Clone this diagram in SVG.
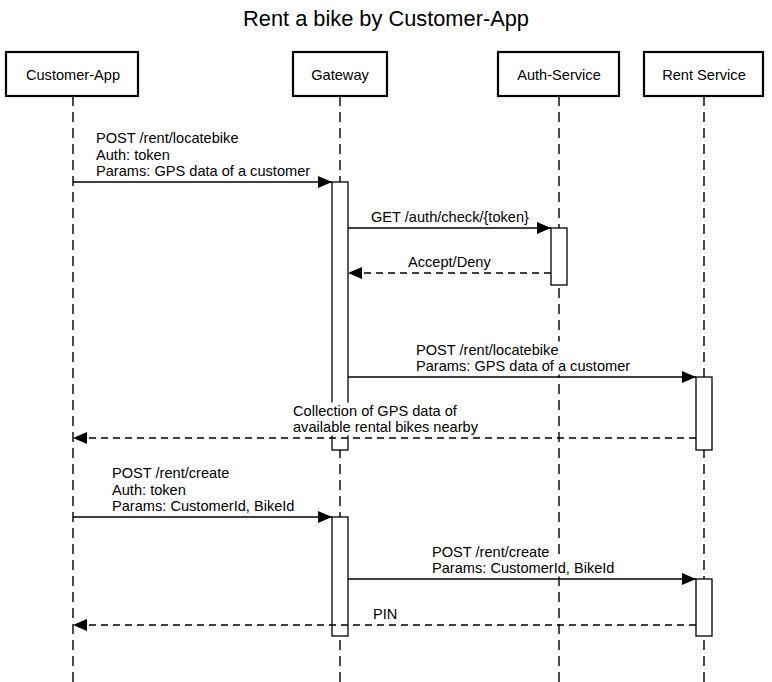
<svg xmlns="http://www.w3.org/2000/svg" width="772" height="682" viewBox="0 0 772 682">
<style>
text{font-family:"Liberation Sans",Arial,sans-serif;fill:#000}
.title{font-size:21.8px}
.lbl{font-size:14.6px}
.bg{fill:#fff;stroke:none}
.box{fill:#fff;stroke:#000;stroke-width:2.2}
.life{stroke:#000;stroke-width:1.4;stroke-dasharray:10 6;fill:none}
.bar{fill:#fff;stroke:#000;stroke-width:1.3}
.msg{stroke:#000;stroke-width:1.3;fill:none;marker-end:url(#ah)}
.ret{stroke:#000;stroke-width:1.3;fill:none;stroke-dasharray:7 5;marker-end:url(#ah)}
</style>
<defs>
<marker id="ah" viewBox="0 0 14 12" refX="14" refY="6" markerWidth="14" markerHeight="12" markerUnits="userSpaceOnUse" orient="auto">
<path d="M0,0 L14,6 L0,12 Z" fill="#000"/>
</marker>
</defs>
<rect width="772" height="682" fill="#fff"/>
<text class="title" x="386" y="26" text-anchor="middle">Rent a bike by Customer-App</text>
<g id="lifelines">
<line class="life" x1="73" y1="96" x2="73" y2="682"/>
<line class="life" x1="340" y1="96" x2="340" y2="682"/>
<line class="life" x1="559" y1="96" x2="559" y2="682"/>
<line class="life" x1="704" y1="96" x2="704" y2="682"/>
</g>
<g id="customer-app"><rect class="box" x="6" y="52" width="132" height="44"/><text class="lbl" x="73" y="79.5" text-anchor="middle">Customer-App</text></g>
<g id="gateway"><rect class="box" x="293" y="52" width="94" height="44"/><text class="lbl" x="340" y="79.5" text-anchor="middle">Gateway</text></g>
<g id="auth-service"><rect class="box" x="498" y="52" width="121" height="44"/><text class="lbl" x="559" y="79.5" text-anchor="middle">Auth-Service</text></g>
<g id="rent-service"><rect class="box" x="644" y="52" width="119" height="44"/><text class="lbl" x="704" y="79.5" text-anchor="middle">Rent Service</text></g>
<g id="activations">
<rect class="bar" x="332" y="182" width="16" height="268"/>
<rect class="bar" x="551" y="228" width="16" height="57"/>
<rect class="bar" x="696" y="377" width="16" height="73"/>
<rect class="bar" x="332" y="517" width="16" height="119"/>
<rect class="bar" x="696" y="579" width="16" height="57"/>
</g>
<g id="label-backgrounds">
<rect class="bg" x="95" y="130" width="145" height="16.5"/>
<rect class="bg" x="95" y="146.5" width="76" height="16.5"/>
<rect class="bg" x="95" y="163" width="216" height="16.5"/>
<rect class="bg" x="370" y="209" width="160" height="16.5"/>
<rect class="bg" x="407" y="254" width="85" height="16.5"/>
<rect class="bg" x="415" y="341.5" width="145" height="16.5"/>
<rect class="bg" x="415" y="358" width="216" height="16.5"/>
<rect class="bg" x="292" y="402.5" width="166" height="16.5"/>
<rect class="bg" x="292" y="419" width="187" height="16.5"/>
<rect class="bg" x="111" y="465" width="120" height="16.5"/>
<rect class="bg" x="111" y="481.5" width="76" height="16.5"/>
<rect class="bg" x="111" y="498" width="185" height="16.5"/>
<rect class="bg" x="431" y="543.5" width="120" height="16.5"/>
<rect class="bg" x="431" y="560" width="185" height="16.5"/>
<rect class="bg" x="372" y="606" width="26" height="16.5"/>
</g>
<g id="connectors">
<line class="msg" x1="73" y1="182" x2="332" y2="182"/>
<line class="msg" x1="348" y1="228" x2="551" y2="228"/>
<line class="ret" x1="551" y1="273" x2="348" y2="273"/>
<line class="msg" x1="348" y1="377" x2="696" y2="377"/>
<line class="ret" x1="696" y1="438" x2="73" y2="438"/>
<line class="msg" x1="73" y1="517" x2="332" y2="517"/>
<line class="msg" x1="348" y1="579" x2="696" y2="579"/>
<line class="ret" x1="696" y1="625" x2="73" y2="625"/>
</g>
<g id="labels">
<text class="lbl" x="96" y="143">POST /rent/locatebike</text>
<text class="lbl" x="96" y="159.5">Auth: token</text>
<text class="lbl" x="96" y="176">Params: GPS data of a customer</text>
<text class="lbl" x="371" y="222">GET /auth/check/{token}</text>
<text class="lbl" x="408" y="267">Accept/Deny</text>
<text class="lbl" x="416" y="354.5">POST /rent/locatebike</text>
<text class="lbl" x="416" y="371">Params: GPS data of a customer</text>
<text class="lbl" x="293" y="415.5">Collection of GPS data of</text>
<text class="lbl" x="293" y="432">available rental bikes nearby</text>
<text class="lbl" x="112" y="478">POST /rent/create</text>
<text class="lbl" x="112" y="494.5">Auth: token</text>
<text class="lbl" x="112" y="511">Params: CustomerId, BikeId</text>
<text class="lbl" x="432" y="556.5">POST /rent/create</text>
<text class="lbl" x="432" y="573">Params: CustomerId, BikeId</text>
<text class="lbl" x="373" y="619">PIN</text>
</g>
</svg>
